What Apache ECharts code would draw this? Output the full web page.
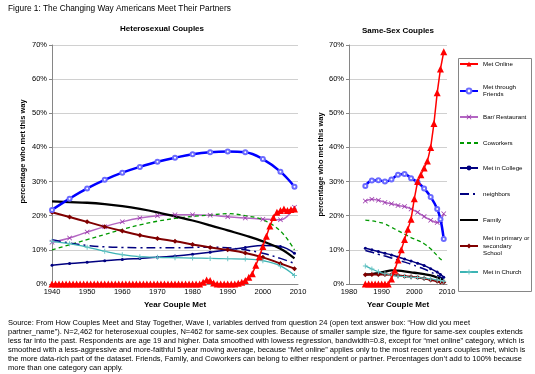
<!DOCTYPE html>
<html><head><meta charset="utf-8">
<script src="https://cdn.jsdelivr.net/npm/echarts@6/dist/echarts.min.js"></script>
<style>html,body{margin:0;padding:0;background:#fff}#c{width:535px;height:374px}</style>
</head><body><div id="c"></div>
<script>
const FONT = '"Liberation Sans", Arial, sans-serif';

// ---------- Heterosexual couples ----------
const hetYears = [1940,1945,1950,1955,1960,1965,1970,1975,1980,1985,1990,1995,2000,2005,2009];
const hetFriends   = [21.7,25.0,28.0,30.5,32.6,34.3,35.8,37.0,38.0,38.6,38.8,38.6,36.6,32.9,28.5];
const hetBar       = [12.2,13.5,15.2,16.8,18.2,19.3,20.0,20.3,20.3,20.1,19.7,19.3,19.0,18.8,22.5];
const hetCoworkers = [10.0,11.5,13.0,14.5,16.0,17.3,18.4,19.2,19.8,20.2,20.6,20.0,18.8,15.5,10.0];
const hetCollege   = [5.5,6.0,6.4,6.8,7.2,7.5,7.8,8.2,8.7,9.3,10.0,10.7,11.3,11.0,9.0];
const hetNeighbors = [13.0,12.0,11.3,10.9,10.7,10.6,10.6,10.6,10.7,10.8,10.6,10.0,9.0,7.5,6.0];
const hetFamily    = [24.2,24.0,23.8,23.4,22.8,22.0,21.0,19.8,18.6,17.2,15.7,14.2,12.5,10.3,7.5];
const hetSchool    = [21.0,19.6,18.2,16.8,15.5,14.3,13.3,12.5,11.6,10.7,10.0,9.1,7.8,6.0,4.5];
const hetChurch    = [12.5,11.8,10.8,9.6,8.6,8.0,7.8,7.7,7.6,7.5,7.4,7.3,6.8,5.3,2.5];
const hetOnlineYears = [1940,1941,1942,1943,1944,1945,1946,1947,1948,1949,1950,1951,1952,1953,1954,1955,1956,1957,1958,1959,1960,1961,1962,1963,1964,1965,1966,1967,1968,1969,1970,1971,1972,1973,1974,1975,1976,1977,1978,1979,1980,1981,1982,1983,1984,1985,1986,1987,1988,1989,1990,1991,1992,1993,1994,1995,1996,1997,1998,1999,2000,2001,2002,2003,2004,2005,2006,2007,2008,2009];
const hetOnline = [0,0,0,0,0,0,0,0,0,0,0,0,0,0,0,0,0,0,0,0,0,0,0,0,0,0,0,0,0,0,0,0,0,0,0,0,0,0,0,0,0,0,0,0.5,1.2,1.0,0.3,0,0,0,0,0,0,0.2,0.5,1.0,2.0,3.0,5.5,8.0,11.0,14.0,17.0,19.5,21.0,21.5,22.0,21.5,21.8,22.0];

// ---------- Same-sex couples ----------
const ssYears = [1985,1987,1989,1991,1993,1995,1997,1999,2001,2003,2005,2007,2008,2009];
const ssFriends   = [28.7,30.3,30.4,30.0,30.6,32.0,32.2,31.0,29.8,28.0,25.5,22.0,19.0,13.2];
const ssBar       = [24.3,24.8,24.5,23.9,23.5,23.0,22.7,22.0,21.0,19.8,18.7,18.0,18.6,20.6];
const ssCoworkers = [18.7,18.5,18.1,17.6,16.6,15.6,14.6,13.6,12.8,11.8,10.3,8.3,7.3,6.6];
const ssCollege   = [10.5,10.0,9.5,9.0,8.5,7.9,7.3,6.7,6.1,5.4,4.5,3.5,2.8,2.0];
const ssNeighbors = [9.8,9.3,8.7,8.2,7.6,7.0,6.4,5.8,5.1,4.4,3.5,2.6,2.0,1.5];
const ssFamily    = [2.8,2.9,3.2,3.6,4.0,3.9,3.7,3.4,3.2,2.9,2.5,1.9,1.5,1.0];
const ssSchool    = [2.7,2.8,2.8,2.8,2.7,2.5,2.3,2.1,1.9,1.6,1.2,0.8,0.6,0.5];
const ssChurch    = [5.3,4.4,3.6,3.0,2.6,2.3,2.2,2.0,1.9,1.7,1.5,1.2,1.0,0.8];
const ssOnlineYears = [1985,1986,1987,1988,1989,1990,1991,1992,1993,1994,1995,1996,1997,1998,1999,2000,2001,2002,2003,2004,2005,2006,2007,2008,2009];
const ssOnline = [0,0,0,0,0,0,0,0,1.5,4,7,10,13,16,19,25,30,32,34,36,40,47,56,63,68];

// ---------- Texts ----------
const yTicks = [0,10,20,30,40,50,60,70];
const figTitle = 'Figure 1: The Changing Way Americans Meet Their Partners';
const leftTitle = 'Heterosexual Couples';
const rightTitle = 'Same-Sex Couples';
const xName = 'Year Couple Met';
const yName = 'percentage who met this way';
const sourceLines = [
 'Source: From How Couples Meet and Stay Together, Wave I, variables derived from question 24 (open text answer box: \u201cHow did you meet',
 'partner_name\u201d). N=2,462 for heterosexual couples, N=462 for same-sex couples. Because of smaller sample size, the figure for same-sex couples extends',
 'less far into the past. Respondents are age 19 and higher. Data smoothed with lowess regression, bandwidth=0.8, except for \u201cmet online\u201d category, which is',
 'smoothed with a less-aggressive and more-faithful 5 year moving average, because \u201cMet online\u201d applies only to the most recent years couples met, which is',
 'the more data-rich part of the dataset. Friends, Family, and Coworkers can belong to either respondent or partner. Percentages don\u2019t add to 100% because',
 'more than one category can apply.'
];
const legendNames = ['Met Online','Met through Friends','Bar/ Restaurant','Coworkers','Met in College','neighbors','Family','Met in primary or secondary School','Met in Church'];
const legendLabels = {
 'Met through Friends':'Met through\nFriends',
 'Met in primary or secondary School':'Met in primary or\nsecondary\nSchool'
};

const X_PATH = 'path://M0,1L1,0L5,4L9,0L10,1L6,5L10,9L9,10L5,6L1,10L0,9L4,5Z';
const PLUS_PATH = 'path://M4,0H6V4H10V6H6V10H4V6H0V4H4Z';

const styles = {
 'Met Online': {color:'#ff0000', lineStyle:{width:1.5,color:'#ff0000'}, symbol:'triangle', symbolSize:7, itemStyle:{color:'#ff0000'}, smooth:false, z:10},
 'Met through Friends': {color:'#0000ff', lineStyle:{width:2.5,color:'#0000ff'}, symbol:'emptyCircle', symbolSize:4, itemStyle:{color:'#6a6aff',borderWidth:1}, smooth:0.4, z:5},
 'Bar/ Restaurant': {color:'#a64ca6', lineStyle:{width:1.5,color:'#b366c2'}, symbol:X_PATH, symbolSize:5, itemStyle:{color:'#9933aa'}, smooth:0.4, z:4},
 'Coworkers': {color:'#009900', lineStyle:{width:1.3,color:'#009900',type:[4,3]}, symbol:'none', smooth:0.4, z:4},
 'Met in College': {color:'#000080', lineStyle:{width:1.5,color:'#000080'}, symbol:'circle', symbolSize:3, itemStyle:{color:'#000080'}, smooth:0.4, z:4},
 'neighbors': {color:'#000080', lineStyle:{width:1.5,color:'#000080',type:[9,4,2,4]}, symbol:'none', smooth:0.4, z:4},
 'Family': {color:'#000000', lineStyle:{width:2.3,color:'#000000'}, symbol:'none', smooth:0.4, z:4},
 'Met in primary or secondary School': {color:'#800000', lineStyle:{width:2,color:'#800000'}, symbol:'diamond', symbolSize:5, itemStyle:{color:'#800000'}, smooth:0.4, z:4},
 'Met in Church': {color:'#3cb4b4', lineStyle:{width:1.2,color:'#3cb4b4'}, symbol:PLUS_PATH, symbolSize:5, itemStyle:{color:'#6cc6c6'}, smooth:0.4, z:4}
};
const noMarker = {'Coworkers':1,'neighbors':1,'Family':1};

function mk(name, xs, ys, idx){
  return Object.assign({
    name: name, type:'line', xAxisIndex: idx, yAxisIndex: idx,
    data: xs.map((x,i)=>[x, ys[i]]), animation:false, showSymbol:true,
    emphasis:{disabled:true}, clip:false
  }, JSON.parse(JSON.stringify(styles[name])));
}

const series = [
  mk('Met through Friends', hetYears, hetFriends, 0),
  mk('Bar/ Restaurant', hetYears, hetBar, 0),
  mk('Coworkers', hetYears, hetCoworkers, 0),
  mk('Met in College', hetYears, hetCollege, 0),
  mk('neighbors', hetYears, hetNeighbors, 0),
  mk('Family', hetYears, hetFamily, 0),
  mk('Met in primary or secondary School', hetYears, hetSchool, 0),
  mk('Met in Church', hetYears, hetChurch, 0),
  mk('Met Online', hetOnlineYears, hetOnline, 0),
  mk('Met through Friends', ssYears, ssFriends, 1),
  mk('Bar/ Restaurant', ssYears, ssBar, 1),
  mk('Coworkers', ssYears, ssCoworkers, 1),
  mk('Met in College', ssYears, ssCollege, 1),
  mk('neighbors', ssYears, ssNeighbors, 1),
  mk('Family', ssYears, ssFamily, 1),
  mk('Met in primary or secondary School', ssYears, ssSchool, 1),
  mk('Met in Church', ssYears, ssChurch, 1),
  mk('Met Online', ssOnlineYears, ssOnline, 1)
];

function xAxis(idx, min){
  return {type:'value', gridIndex:idx, min:min, max:2010, interval:10,
    name:xName, nameLocation:'middle', nameGap:16,
    nameTextStyle:{fontFamily:FONT, fontSize:8, fontWeight:'bold', color:'#000'},
    axisLine:{show:true, onZero:false, lineStyle:{color:'#868686', width:1}},
    axisTick:{show:false},
    axisLabel:{fontFamily:FONT, fontSize:7.5, color:'#000', margin:4, formatter:v=>String(v)},
    splitLine:{show:false}};
}
function yAxis(idx, gap, shiftPad){
  return {type:'value', gridIndex:idx, min:yTicks[0], max:yTicks[yTicks.length-1], interval:10,
    name:yName, nameLocation:'middle', nameGap:gap, nameRotate:90,
    nameTextStyle:{fontFamily:FONT, fontSize:7.5, fontWeight:'bold', color:'#000', padding:[0,0,0,shiftPad]},
    axisLine:{show:true, lineStyle:{color:'#868686', width:1}},
    axisTick:{show:true, length:3, lineStyle:{color:'#868686'}},
    axisLabel:{fontFamily:FONT, fontSize:7.5, color:'#000', margin:5, formatter:'{value}%'},
    splitLine:{show:true, lineStyle:{color:'#d0d0d0', width:1}}};
}

// legends: one per item so each row sits where the reference puts it
const iconCenters = [64,91,117,143,168,194,220,246,272];
const legends = legendNames.map((n,i)=>{
  const lines = (legendLabels[n]||n).split('\n').length;
  const padTop = (lines-1)*7.5;
  const blockH = lines*7.5 + padTop;
  const top = iconCenters[i] - Math.max(3, blockH/2);
  const l = {data:[n], orient:'vertical', left:459, top:top, padding:0, itemGap:0,
    itemWidth:18, itemHeight:6, selectedMode:false,
    formatter: name => legendLabels[name] || name,
    textStyle:{fontFamily:FONT, fontSize:6.2, lineHeight:7.5, color:'#000', padding:[padTop,0,0,0]}};
  if (noMarker[n]) l.itemStyle = {opacity:0};
  return l;
});

const graphic = [
  {type:'text', left:8, top:5, style:{text:figTitle, fontFamily:FONT, fontSize:8.3, fill:'#000'}},
  {type:'text', x:162, y:29, style:{text:leftTitle, fontFamily:FONT, fontSize:8, fontWeight:'bold', fill:'#000', align:'center', verticalAlign:'middle'}},
  {type:'text', x:398, y:31, style:{text:rightTitle, fontFamily:FONT, fontSize:8, fontWeight:'bold', fill:'#000', align:'center', verticalAlign:'middle'}},
  {type:'rect', shape:{x:458.5, y:58.5, width:73, height:233}, style:{fill:'none', stroke:'#868686', lineWidth:1}, z:-1}
].concat(sourceLines.map((t,i)=>({type:'text', x:8, y:323+i*9,
  style:{text:t, fontFamily:FONT, fontSize:7.5, fill:'#000', verticalAlign:'middle'}})));

const option = {
  backgroundColor:'#fff',
  animation:false,
  grid:[{left:52, top:45, width:246, height:239},{left:349, top:45, width:98, height:239}],
  xAxis:[xAxis(0,1940), xAxis(1,1980)],
  yAxis:[yAxis(0,25,26), yAxis(1,22,0)],
  legend: legends,
  graphic: graphic,
  series: series
};
const chart = echarts.init(document.getElementById('c'), null, {renderer:'canvas'});
chart.setOption(option);
</script></body></html>
